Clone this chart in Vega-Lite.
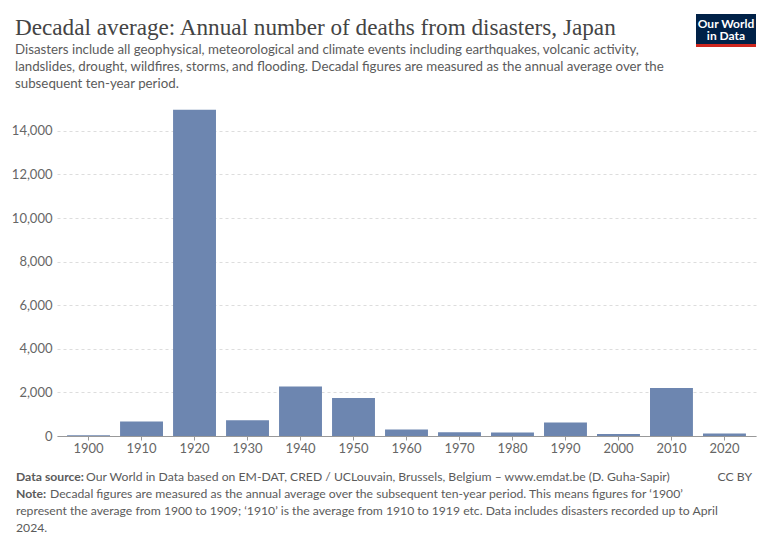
{
  "$schema": "https://vega.github.io/schema/vega-lite/v6.json",
  "width": 699,
  "height": 327,
  "autosize": {"type": "none"},
  "padding": {"left": 57, "top": 109, "right": 14, "bottom": 108},
  "background": "white",
  "config": {"view": {"stroke": null}},
  "title": {
    "text": "Decadal average: Annual number of deaths from disasters, Japan",
    "subtitle": [
      "Disasters include all geophysical, meteorological and climate events including earthquakes, volcanic activity,",
      "landslides, drought, wildfires, storms, and flooding. Decadal figures are measured as the annual average over the",
      "subsequent ten-year period."
    ],
    "anchor": "start",
    "frame": "group",
    "dx": -42,
    "offset": -77,
    "font": "Liberation Serif",
    "fontSize": 23.2,
    "fontWeight": "normal",
    "color": "#444444",
    "subtitleFont": "Lato",
    "subtitleFontSize": 13.3,
    "subtitleColor": "#5b5b5b",
    "subtitleLineHeight": 17,
    "subtitlePadding": 3
  },
  "layer": [
    {
      "data": {
        "values": [
          {"decade": "1900", "deaths": 40},
          {"decade": "1910", "deaths": 665},
          {"decade": "1920", "deaths": 14970},
          {"decade": "1930", "deaths": 720},
          {"decade": "1940", "deaths": 2270},
          {"decade": "1950", "deaths": 1740},
          {"decade": "1960", "deaths": 300},
          {"decade": "1970", "deaths": 170},
          {"decade": "1980", "deaths": 165},
          {"decade": "1990", "deaths": 620},
          {"decade": "2000", "deaths": 90},
          {"decade": "2010", "deaths": 2200},
          {"decade": "2020", "deaths": 110}
        ]
      },
      "mark": {"type": "bar", "color": "#6d86b0"},
      "encoding": {
        "x": {
          "field": "decade",
          "type": "ordinal",
          "sort": null,
          "scale": {"paddingInner": 0.19, "paddingOuter": 0.19},
          "axis": {
            "title": null,
            "labelAngle": 0,
            "labelFont": "Lato",
            "labelFontSize": 13,
            "labelColor": "#666666",
            "tickSize": 4,
            "tickColor": "#999999",
            "domainColor": "#999999",
            "labelPadding": 2
          }
        },
        "y": {
          "field": "deaths",
          "type": "quantitative",
          "scale": {"domain": [0, 15000], "nice": false},
          "axis": {
            "title": null,
            "values": [0, 2000, 4000, 6000, 8000, 10000, 12000, 14000],
            "format": ",.0f",
            "labelFont": "Lato",
            "labelFontSize": 13,
            "labelColor": "#666666",
            "labelPadding": 5,
            "ticks": false,
            "domain": false,
            "grid": true,
            "gridDash": [3, 3],
            "gridColor": "#dddddd"
          }
        }
      }
    },
    {
      "data": {"values": [{}]},
      "mark": {"type": "rect", "x": 639, "x2": 699, "y": -95, "y2": -65, "color": "#002147"},
      "encoding": {}
    },
    {
      "data": {"values": [{}]},
      "mark": {"type": "rect", "x": 639, "x2": 699, "y": -65, "y2": -62, "color": "#ce261e"},
      "encoding": {}
    },
    {
      "data": {"values": [{}]},
      "mark": {"type": "text", "text": ["Our World", "in Data"], "x": 669, "y": -85, "align": "center", "baseline": "middle", "lineHeight": 12, "font": "Lato", "fontSize": 12, "fontWeight": "bold", "color": "white"},
      "encoding": {}
    },
    {
      "data": {"values": [{}]},
      "mark": {"type": "text", "text": "Data source:", "x": -41, "y": 368, "align": "left", "baseline": "middle", "font": "Lato", "fontSize": 12.2, "fontWeight": "bold", "color": "#5b5b5b"},
      "encoding": {}
    },
    {
      "data": {"values": [{}]},
      "mark": {"type": "text", "text": "Our World in Data based on EM-DAT, CRED / UCLouvain, Brussels, Belgium – www.emdat.be (D. Guha-Sapir)", "x": 29, "y": 368, "align": "left", "baseline": "middle", "font": "Lato", "fontSize": 12.2, "color": "#5b5b5b"},
      "encoding": {}
    },
    {
      "data": {"values": [{}]},
      "mark": {"type": "text", "text": "CC BY", "x": 695, "y": 368, "align": "right", "baseline": "middle", "font": "Lato", "fontSize": 12.2, "color": "#5b5b5b"},
      "encoding": {}
    },
    {
      "data": {"values": [{}]},
      "mark": {"type": "text", "text": "Note:", "x": -41, "y": 385, "align": "left", "baseline": "middle", "font": "Lato", "fontSize": 12.2, "fontWeight": "bold", "color": "#5b5b5b"},
      "encoding": {}
    },
    {
      "data": {"values": [{}]},
      "mark": {"type": "text", "text": ["Decadal figures are measured as the annual average over the subsequent ten-year period. This means figures for ‘1900’"], "x": -7, "y": 385, "align": "left", "baseline": "middle", "font": "Lato", "fontSize": 12.2, "color": "#5b5b5b"},
      "encoding": {}
    },
    {
      "data": {"values": [{}]},
      "mark": {"type": "text", "text": ["represent the average from 1900 to 1909; ‘1910’ is the average from 1910 to 1919 etc. Data includes disasters recorded up to April", "2024."], "x": -41, "y": 402, "lineHeight": 17, "align": "left", "baseline": "middle", "font": "Lato", "fontSize": 12.2, "color": "#5b5b5b"},
      "encoding": {}
    }
  ]
}
